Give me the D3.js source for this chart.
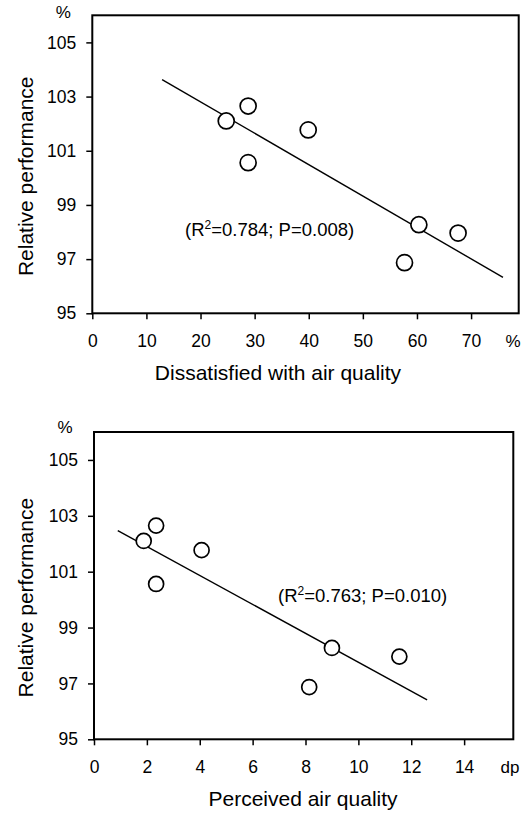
<!DOCTYPE html>
<html>
<head>
<meta charset="utf-8">
<script src="https://cdn.jsdelivr.net/npm/d3@7"></script>
<style>
  html, body { margin: 0; padding: 0; background: #fff; }
  svg { display: block; }
  text { font-family: "Liberation Sans", Arial, sans-serif; fill: #000; }
</style>
</head>
<body>
<svg id="chart" width="528" height="816"></svg>
<script>
// Relative performance (%) of the seven exposure conditions
const performance = [102.1, 102.65, 100.56, 101.77, 98.27, 96.87, 97.96];
// Percentage dissatisfied with air quality for the same conditions
const dissatisfied = [24.75, 28.8, 28.8, 39.9, 60.35, 57.7, 67.6];
// Perceived air quality (decipol) for the same conditions
const perceivedAir = [1.88, 2.35, 2.35, 4.07, 9.0, 8.14, 11.55];

const yTicks = [95, 97, 99, 101, 103, 105];
const xTicksDissatisfied = [0, 10, 20, 30, 40, 50, 60, 70];
const xTicksPerceived = [0, 2, 4, 6, 8, 10, 12, 14];

// x-extent over which each regression line is drawn
const fitRangeDissatisfied = [12.9, 75.9];
const fitRangePerceived = [0.9, 12.6];

const statsDissatisfied = { r2: "0.784", p: "0.008" };
const statsPerceived = { r2: "0.763", p: "0.010" };

const svg = d3.select("#chart");
svg.append("rect").attr("width", 528).attr("height", 816).attr("fill", "#fff");

// ordinary least-squares fit
function linearFit(xs, ys) {
  const mx = d3.mean(xs), my = d3.mean(ys);
  let sxy = 0, sxx = 0;
  xs.forEach((x, i) => { sxy += (x - mx) * (ys[i] - my); sxx += (x - mx) * (x - mx); });
  const slope = sxy / sxx;
  return { slope, intercept: my - slope * mx };
}

function drawPanel(o) {
  const x = d3.scaleLinear().domain(o.xDomain).range([o.left, o.right]);
  const y = d3.scaleLinear().domain([95, 106]).range([o.bottom, o.top]);
  const g = svg.append("g");

  // y axis
  const yAxis = g.append("g")
    .attr("transform", `translate(${o.left},0)`)
    .call(d3.axisLeft(y).tickValues(yTicks).tickSize(6).tickPadding(10).tickFormat(d3.format("d")));
  // x axis
  const xAxis = g.append("g")
    .attr("transform", `translate(0,${o.bottom})`)
    .call(d3.axisBottom(x).tickValues(o.xTicks).tickSize(6).tickPadding(15).tickFormat(d3.format("d")));

  [yAxis, xAxis].forEach(a => {
    a.select(".domain").remove();
    a.selectAll(".tick line").attr("stroke", "#000").attr("stroke-width", 1.5);
    a.selectAll(".tick text").attr("font-size", 17.5).attr("fill", "#000")
      .style("font-family", '"Liberation Sans", Arial, sans-serif');
  });

  // frame
  g.append("rect")
    .attr("x", o.left).attr("y", o.top)
    .attr("width", o.right - o.left).attr("height", o.bottom - o.top)
    .attr("fill", "none").attr("stroke", "#000").attr("stroke-width", 2);

  // regression line
  const fit = linearFit(o.xs, performance);
  g.append("line")
    .attr("x1", x(o.fitRange[0])).attr("y1", y(fit.intercept + fit.slope * o.fitRange[0]))
    .attr("x2", x(o.fitRange[1])).attr("y2", y(fit.intercept + fit.slope * o.fitRange[1]))
    .attr("stroke", "#000").attr("stroke-width", 1.4);

  // observations
  g.selectAll("circle.pt").data(o.xs).join("circle")
    .attr("class", "pt")
    .attr("cx", d => x(d)).attr("cy", (d, i) => y(performance[i]))
    .attr("r", o.r).attr("fill", "#fff").attr("stroke", "#000").attr("stroke-width", 1.7);

  // statistics annotation
  const t = g.append("text").attr("x", o.statsX).attr("y", o.statsY).attr("font-size", 18.5);
  t.append("tspan").text("(R");
  t.append("tspan").attr("dy", -7.5).attr("font-size", 12).text("2");
  t.append("tspan").attr("dy", 7.5).text(`=${o.stats.r2}; P=${o.stats.p})`);

  // unit labels
  g.append("text").attr("x", o.left - 29).attr("y", o.top + o.pctDy).attr("font-size", 17)
    .attr("text-anchor", "middle").text("%");
  g.append("text").attr("x", o.xUnitX).attr("y", o.bottom + 34).attr("font-size", 17)
    .attr("text-anchor", "middle").text(o.xUnit);

  // axis titles
  g.append("text")
    .attr("transform", `translate(33,${(o.top + o.bottom) / 2 + 12}) rotate(-90)`)
    .attr("text-anchor", "middle").attr("font-size", 21).text("Relative performance");
  g.append("text").attr("x", o.xTitleX).attr("y", o.bottom + 67)
    .attr("text-anchor", "middle").attr("font-size", 21).text(o.xTitle);
}

drawPanel({
  left: 92.3, right: 518.7, top: 15.3, bottom: 313.3,
  xDomain: [0, 78.8], xTicks: xTicksDissatisfied, xs: dissatisfied,
  fitRange: fitRangeDissatisfied, stats: statsDissatisfied,
  statsX: 185, statsY: 236, r: 8, pctDy: 3,
  xUnit: "%", xUnitX: 513, xTitle: "Dissatisfied with air quality", xTitleX: 278
});

drawPanel({
  left: 94, right: 513.3, top: 432, bottom: 739.3,
  xDomain: [0, 15.86], xTicks: xTicksPerceived, xs: perceivedAir,
  fitRange: fitRangePerceived, stats: statsPerceived,
  statsX: 278, statsY: 602, r: 7.5, pctDy: 1,
  xUnit: "dp", xUnitX: 510, xTitle: "Perceived air quality", xTitleX: 303
});
</script>
</body>
</html>
